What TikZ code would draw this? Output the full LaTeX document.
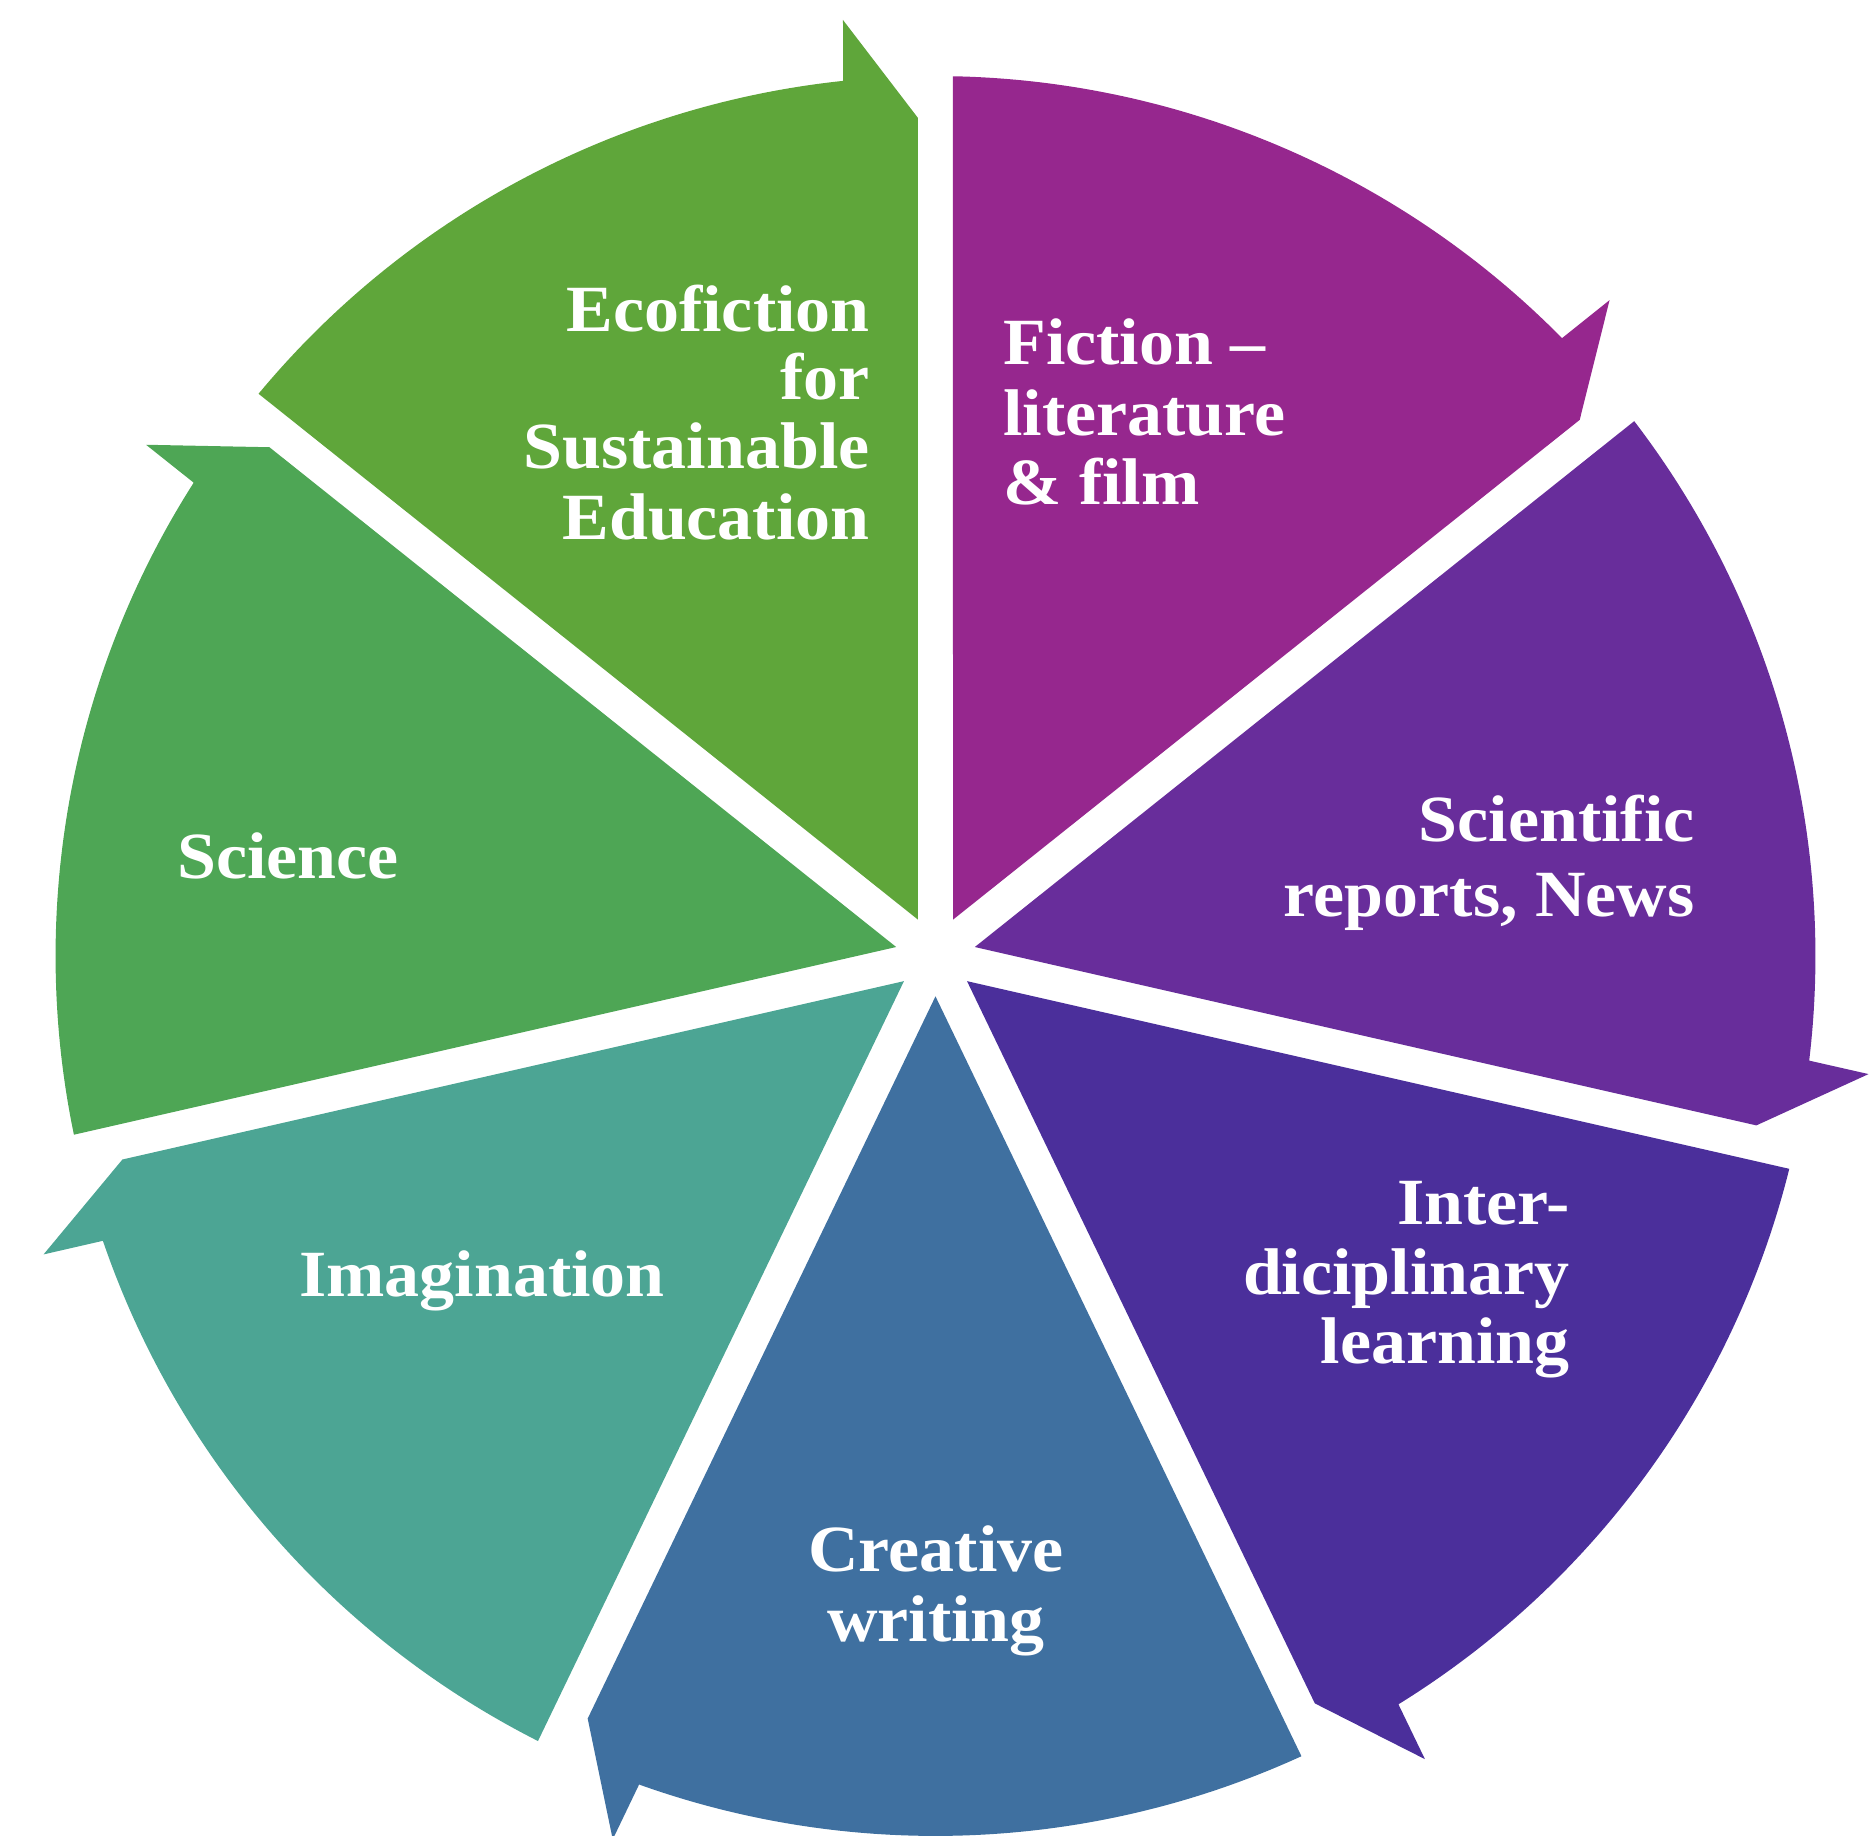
\documentclass[tikz,border=0pt]{standalone}
\usepackage{fontspec}
\setmainfont{Liberation Serif}[FakeStretch=1.06]
\definecolor{cEco}{HTML}{5FA63A}
\definecolor{cFic}{HTML}{96278E}
\definecolor{cSci}{HTML}{682D9B}
\definecolor{cInt}{HTML}{4B2F9B}
\definecolor{cCre}{HTML}{3F70A0}
\definecolor{cIma}{HTML}{4CA594}
\definecolor{cScn}{HTML}{4EA655}
\begin{document}
\begin{tikzpicture}[x=0.5pt,y=0.5pt,
  lbl/.style={text=white,font=\fontsize{33}{35}\selectfont\bfseries,inner sep=0pt},
  seg/.style={draw=none}]
\useasboundingbox (-935.5,-880) rectangle (939.5,956);
% segments: each the same shape rotated clockwise by 360/7
\foreach \k/\c in {0/cEco,1/cFic,2/cSci,3/cInt,4/cCre,5/cIma,6/cScn}{
  \fill[seg,\c,rotate=-51.428571*\k]
    (-17.5,36.35) -- (140.289:880)
    arc[start angle=140.289,end angle=96.03,radius=440pt]
    -- (-92.5,936) -- (-17.5,838) -- cycle;
}
% labels
\node[lbl,anchor=base east] (eco1) at (-65.5,624) {Ecofiction};
\node[lbl,anchor=base east] (eco2) at (-65.5,556) {for};
\node[lbl,anchor=base east] (eco3) at (-65.5,487) {Sustainable};
\node[lbl,anchor=base east] (eco4) at (-65.5,416) {Education};
\node[lbl,anchor=base west] (fic1) at (67.5,591) {Fiction –};
\node[lbl,anchor=base west] (fic2) at (67.5,520) {literature};
\node[lbl,anchor=base west] (fic3) at (67.5,451) {\& film};
\node[lbl,anchor=base east] (sci1) at (759.5,114) {Scientific};
\node[lbl,anchor=base east] (sci2) at (759.5,39) {reports, News};
\node[lbl,anchor=base east] (int1) at (634.5,-269) {Inter-};
\node[lbl,anchor=base east] (int2) at (634.5,-338) {diciplinary};
\node[lbl,anchor=base east] (int3) at (634.5,-407) {learning};
\node[lbl,anchor=base] (cre1) at (0.5,-615) {Creative};
\node[lbl,anchor=base] (cre2) at (0.5,-685) {writing};
\node[lbl,anchor=base] (ima) at (-453.5,-340) {Imagination};
\node[lbl,anchor=base west] (scn) at (-758.5,77) {Science};
\end{tikzpicture}
\end{document}
